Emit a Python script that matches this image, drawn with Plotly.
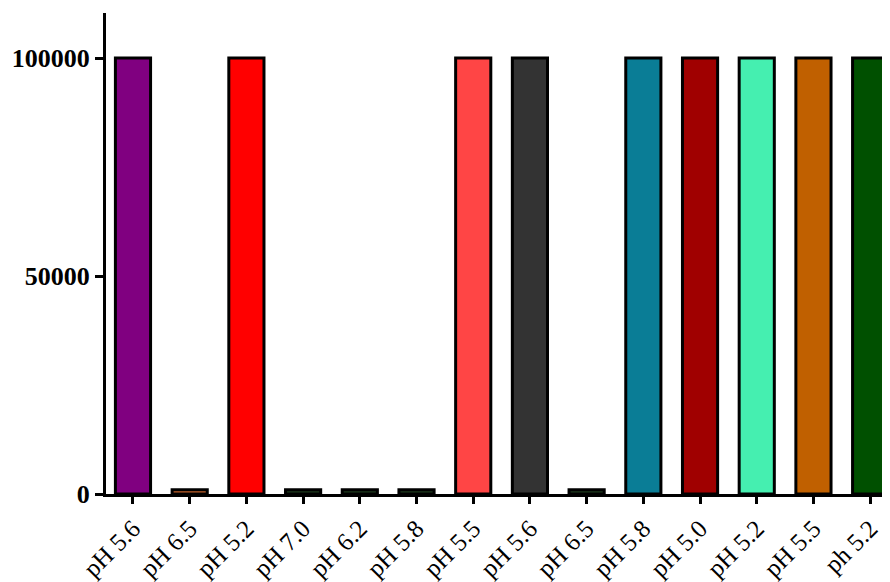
import plotly.graph_objects as go

categories = ["pH 5.6", "pH 6.5", "pH 5.2", "pH 7.0", "pH 6.2", "pH 5.8", "pH 5.5",
              "pH 5.6", "pH 6.5", "pH 5.8", "pH 5.0", "pH 5.2", "pH 5.5", "ph 5.2"]
values = [100000, 1000, 100000, 1000, 1000, 1000, 100000,
          100000, 1000, 100000, 100000, 100000, 100000, 100000]
colors = ["#800080", "#C0602A", "#FF0000", "#1E3A1E", "#1E3A1E", "#1E3A1E", "#FF4545",
          "#333333", "#1E3A1E", "#0A7D96", "#A00000", "#45EFB0", "#C06000", "#005000"]
y_ticks = [0, 50000, 100000]

x_idx = list(range(len(categories)))

fig = go.Figure(go.Bar(
    x=x_idx, y=values, width=0.62,
    marker=dict(color=colors, line=dict(color="black", width=3)),
))

fig.update_layout(
    width=890, height=582,
    margin=dict(l=98, r=8, t=5, b=96),
    paper_bgcolor="white", plot_bgcolor="white",
    showlegend=False,
    font=dict(family="Liberation Serif", color="black"),
)
fig.update_xaxes(
    range=[-0.476, 13.35], automargin=False,
    tickmode="array", tickvals=x_idx, ticktext=categories,
    tickangle=-45, tickfont=dict(size=25, family="Liberation Serif"),
    showline=True, linecolor="black", linewidth=3,
    ticks="outside", ticklen=7, tickwidth=3, tickcolor="black",
    showgrid=False, zeroline=False,
)
fig.update_yaxes(
    range=[0, 110320], automargin=False,
    tickmode="array", tickvals=y_ticks, ticktext=[str(v) for v in y_ticks],
    tickfont=dict(size=26, family="Liberation Serif", weight="bold"),
    showline=True, linecolor="black", linewidth=3,
    ticks="outside", ticklen=8, tickwidth=3, tickcolor="black",
    showgrid=False, zeroline=False,
)

fig.write_html("out.html")
